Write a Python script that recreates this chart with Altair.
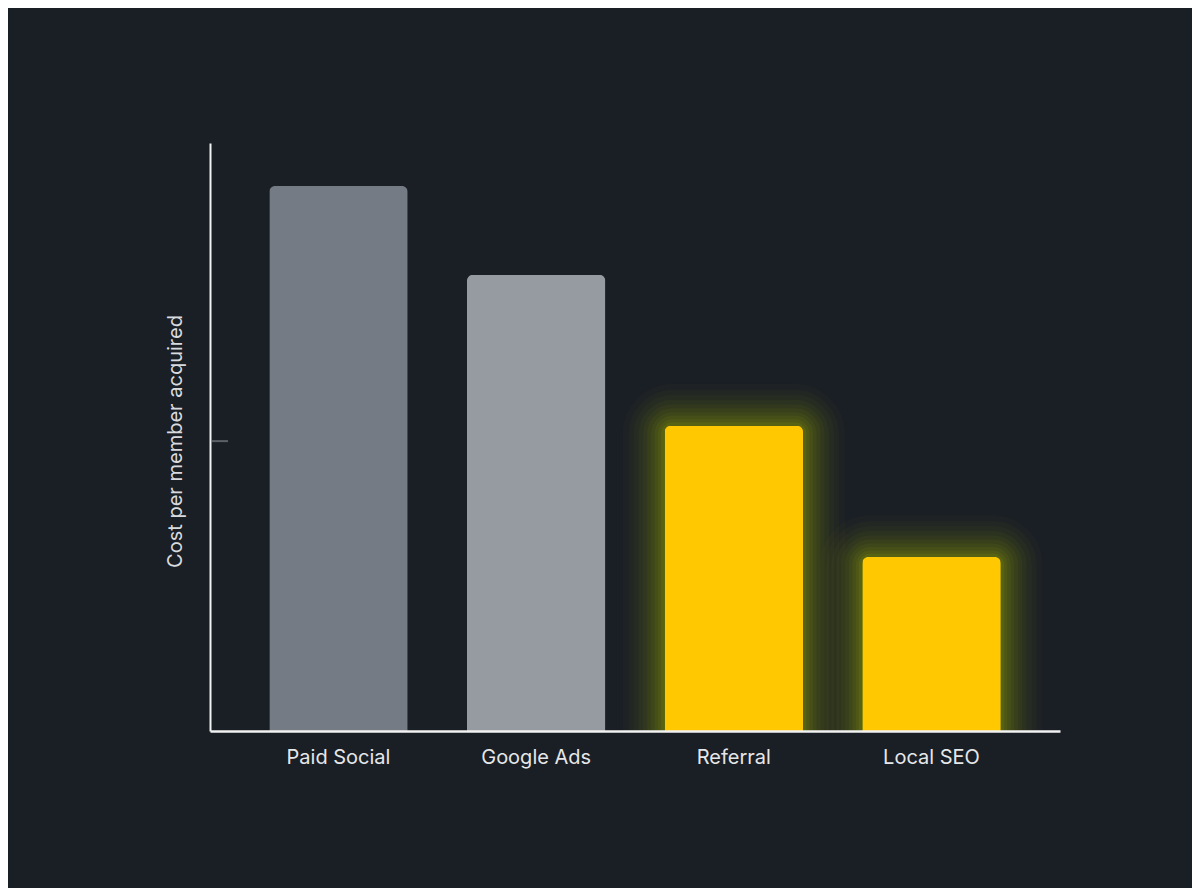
import altair as alt
import pandas as pd

# ---- data ----
channels = ["Paid Social", "Google Ads", "Referral", "Local SEO"]
cost_index = [92.7, 77.6, 51.9, 29.6]
highlighted = ["no", "no", "yes", "yes"]
y_tick_values = [49.3]

# ---- styles ----
BG = "#1a1e25"
bar_palette = ["#747b85", "#969ba1", "#ffc800", "#ffc800"]
FONT = "Inter"
glow_layers = [(84, 0.022), (72, 0.027), (62, 0.032), (52, 0.037), (43, 0.042),
               (35, 0.048), (27, 0.053), (20, 0.058), (13, 0.065), (7, 0.085)]

df = pd.DataFrame({"channel": channels, "cost": cost_index, "highlight": highlighted})
tick_df = pd.DataFrame({"v": y_tick_values})

x_enc = alt.X(
    "channel:N",
    sort=channels,
    scale=alt.Scale(paddingInner=0.3, paddingOuter=0.3),
    axis=alt.Axis(
        title=None,
        labelAngle=0,
        labelFont=FONT,
        labelFontSize=20,
        labelColor="#e6e7e9",
        labelPadding=16,
        ticks=False,
        grid=False,
        domainColor="#f2f2f2",
        domainWidth=2.5,
        zindex=2,
    ),
)
y_enc = alt.Y(
    "cost:Q",
    scale=alt.Scale(domain=[0, 100], nice=False),
    axis=alt.Axis(
        title="Cost per member acquired",
        labels=False,
        ticks=False,
        grid=False,
        domainColor="#f2f2f2",
        domainWidth=2,
        titleFont=FONT,
        titleFontSize=20,
        titleFontWeight="normal",
        titleColor="#d8dadd",
        titlePadding=25,
        titleY=298,
        zindex=2,
    ),
)

base = alt.Chart(df)

glows = [
    base.transform_filter(alt.datum.highlight == "yes")
    .mark_bar(
        fillOpacity=0,
        stroke="#c4d800",
        strokeWidth=w,
        strokeOpacity=o,
        strokeJoin="round",
        cornerRadiusTopLeft=8,
        cornerRadiusTopRight=8,
    )
    .encode(x=x_enc, y=y_enc)
    for w, o in glow_layers
]

# background-coloured band that hides glow spilling below the baseline
cover = alt.Chart(tick_df).mark_rect(color=BG).encode(
    x=alt.value(-10), x2=alt.value(870), y=alt.value(589), y2=alt.value(660)
)

bars = base.mark_bar(cornerRadiusTopLeft=6, cornerRadiusTopRight=6).encode(
    x=x_enc,
    y=y_enc,
    color=alt.Color(
        "channel:N",
        scale=alt.Scale(domain=channels, range=bar_palette),
        legend=None,
    ),
)

tick = alt.Chart(tick_df).mark_rule(color="#5c6168", strokeWidth=2).encode(
    y=alt.Y("v:Q"), x=alt.value(2), x2=alt.value(18)
)

chart = (
    alt.layer(*glows, cover, bars, tick)
    .properties(
        width=850,
        height=588,
        padding={"left": 202, "top": 135, "right": 132, "bottom": 157},
        autosize=alt.AutoSizeParams(type="none"),
        background=BG,
    )
    .configure_view(stroke=None)
)

chart.save("out.html", embed_options={"renderer": "svg", "actions": False})
